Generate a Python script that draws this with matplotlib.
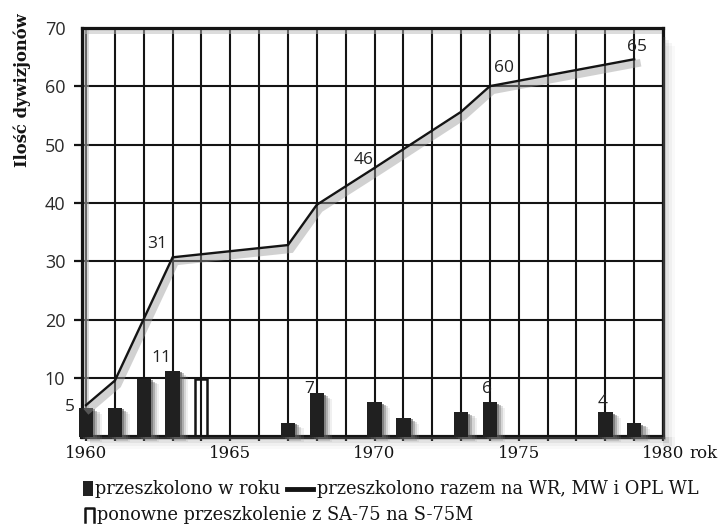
import matplotlib
matplotlib.use('Agg')
import matplotlib.pyplot as plt
import matplotlib.patheffects as pe
from matplotlib.patches import Rectangle
from matplotlib.lines import Line2D

# ---------------- data ----------------
bar_years = [1960, 1961, 1962, 1963, 1967, 1968, 1970, 1971, 1973, 1974, 1978, 1979]
bar_values = [4.9, 4.9, 9.9, 11.3, 2.4, 7.4, 5.9, 3.2, 4.2, 5.9, 4.2, 2.3]

retrain_years = [1964]
retrain_values = [9.8]

line_years = [1960, 1961, 1963, 1967, 1968, 1970, 1973, 1974, 1979]
line_values = [5.4, 9.6, 30.7, 32.8, 39.7, 46.0, 55.6, 60.0, 64.6]

bar_label_years = [1960, 1963, 1968, 1974, 1978]
bar_label_texts = ['5', '11', '7', '6', '4']
line_label_years = [1963, 1970, 1974, 1979]
line_label_texts = ['31', '46', '60', '65']

x_tick_years = [1960, 1965, 1970, 1975, 1980]
x_tick_labels = ['1960', '1965', '1970', '1975', '1980']
x_unit = 'rok'
y_ticks = [10, 20, 30, 40, 50, 60, 70]
y_tick_labels = ['10', '20', '30', '40', '50', '60', '70']
y_label = 'Ilość dywizjonów'
legend_labels = ['przeszkolono w roku',
                 'przeszkolono razem na WR, MW i OPL WL',
                 'ponowne przeszkolenie z SA-75 na S-75M']

# ---------------- style ----------------
SERIF = 'DejaVu Serif'
SANS = 'Open Sans'
INK = '#141414'
W, H = 722, 524
L, R, T, B = 82, 663, 27.7, 436.7

fig = plt.figure(figsize=(W / 100, H / 100), dpi=100)
fig.patch.set_facecolor('white')

# frame shadow (outside right & bottom)
for i, a in enumerate([0.16, 0.11, 0.07, 0.04]):
    d = 3 * (i + 1)
    fig.patches.append(Rectangle((R / W, 1 - (B + d) / H), d / W, (B - T - 6) / H,
                                 transform=fig.transFigure, color='#777777', alpha=a, lw=0, zorder=0))
    fig.patches.append(Rectangle(((L + 8) / W, 1 - (B + d) / H), (R - L - 8 + d) / W, d / H,
                                 transform=fig.transFigure, color='#777777', alpha=a, lw=0, zorder=0))

ax = fig.add_axes([L / W, 1 - B / H, (R - L) / W, (B - T) / H])
ax.set_xlim(1959.86, 1980)
ax.set_ylim(0, 70)
ax.set_facecolor('none')

# inner shadow along left and top border
ax.add_patch(Rectangle((0, 0), 0.012, 1, transform=ax.transAxes, color='#bbbbbb', alpha=0.5, lw=0, zorder=1))
ax.add_patch(Rectangle((0, 0.985), 1, 0.015, transform=ax.transAxes, color='#bbbbbb', alpha=0.5, lw=0, zorder=1))

all_years = list(range(1960, 1981))
ax.set_xticks(all_years)
ax.set_xticklabels([x_tick_labels[x_tick_years.index(y)] if y in x_tick_years else '' for y in all_years],
                   family=SERIF, fontsize=12, color=INK)
ax.set_yticks(y_ticks)
ax.set_yticklabels(y_tick_labels, family=SANS, fontsize=13, color='#2a2a2a')
ax.tick_params(axis='x', length=3, width=1.6, direction='out', pad=3, color=INK)
ax.tick_params(axis='y', length=6, width=1.6, direction='out', pad=6, color=INK)
ax.yaxis.get_major_ticks()[-1].tick1line.set_visible(False)

ax.grid(True, color=INK, lw=1.5, zorder=1)
ax.set_axisbelow(True)
for s in ax.spines.values():
    s.set_linewidth(2.3)
    s.set_color(INK)
ax.spines['bottom'].set_linewidth(3)

# bars
bar_shadow = [pe.SimplePatchShadow(offset=(1.5, -1), shadow_rgbFace='#333333', alpha=0.5),
              pe.SimplePatchShadow(offset=(3, -2), shadow_rgbFace='#555555', alpha=0.35),
              pe.SimplePatchShadow(offset=(4.5, -3), shadow_rgbFace='#777777', alpha=0.22),
              pe.SimplePatchShadow(offset=(6, -4), shadow_rgbFace='#999999', alpha=0.14),
              pe.Normal()]
bars = ax.bar(bar_years, bar_values, width=0.5, color='#202020', zorder=3, clip_on=False)
for p in bars:
    p.set_path_effects(bar_shadow)

ax.bar(retrain_years, retrain_values, width=0.42, fill=False, edgecolor=INK, linewidth=1.8, zorder=3)

# cumulative line
ax.plot(line_years, line_values, color=INK, lw=1.7, zorder=4, solid_joinstyle='miter',
        path_effects=[pe.SimpleLineShadow(offset=(2, -3), shadow_color='#9a9a9a', alpha=0.45, linewidth=5.5),
                      pe.Normal()])

# labels
bar_label_offsets = [(-16, 1), (-11, 13), (-8, 4), (-3, 13), (-3, 10)]
for yr, txt, off in zip(bar_label_years, bar_label_texts, bar_label_offsets):
    v = bar_values[bar_years.index(yr)]
    ax.annotate(txt, (yr, v), xytext=off, textcoords='offset pixels', ha='center', va='center',
                family=SANS, fontsize=12.5, color='#222222', zorder=5, annotation_clip=False)

line_label_offsets = [(-15, 13), (-11, 8), (14, 18), (3, 12)]
for yr, txt, off in zip(line_label_years, line_label_texts, line_label_offsets):
    v = line_values[line_years.index(yr)]
    ax.annotate(txt, (yr, v), xytext=off, textcoords='offset pixels', ha='center', va='center',
                family=SANS, fontsize=12.5, color='#222222', zorder=5, annotation_clip=False)

ax.annotate(x_unit, (1980, 0), xycoords='data', xytext=(26, -17), textcoords='offset pixels',
            ha='left', va='center', family=SERIF, fontsize=12, color=INK, annotation_clip=False)

fig.text(22 / W, 1 - 90 / H, y_label, rotation=90, ha='center', va='center',
         family=SERIF, fontsize=11.8, fontweight='bold', color=INK)

# legend (manual)
fig.patches.append(Rectangle((83 / W, 1 - 496 / H), 10 / W, 15 / H, transform=fig.transFigure,
                             color='#222222', lw=0))
fig.text(95 / W, 1 - 489 / H, legend_labels[0], ha='left', va='center', family=SERIF, fontsize=12.8, color=INK)
fig.lines.append(Line2D([287 / W, 313 / W], [1 - 489 / H] * 2, transform=fig.transFigure, lw=3.5, color=INK))
fig.text(317 / W, 1 - 489 / H, legend_labels[1], ha='left', va='center', family=SERIF, fontsize=12.8, color=INK)
fig.lines.append(Line2D([85 / W, 85 / W, 94 / W, 94 / W], [1 - 522 / H, 1 - 508 / H, 1 - 508 / H, 1 - 522 / H],
                        transform=fig.transFigure, lw=1.8, color=INK))
fig.text(97 / W, 1 - 515 / H, legend_labels[2], ha='left', va='center', family=SERIF, fontsize=12.8, color=INK)

fig.savefig('out.png', dpi=100)
